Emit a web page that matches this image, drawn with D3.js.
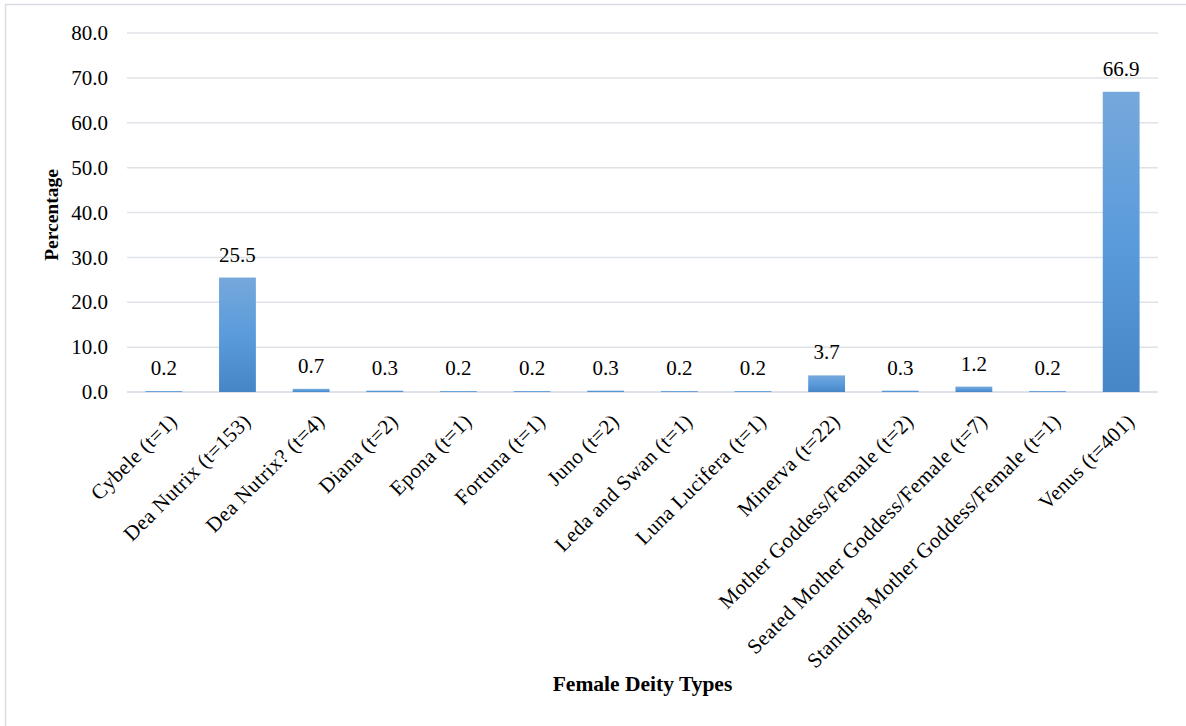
<!DOCTYPE html>
<html><head><meta charset="utf-8">
<script src="https://cdn.jsdelivr.net/npm/d3@7"></script>
<style>body{margin:0;background:#fff;} svg{display:block;}</style>
</head><body>
<svg id="chart" width="1186" height="726"></svg>
<script>
const categories = ["Cybele (t=1)","Dea Nutrix (t=153)","Dea Nutrix? (t=4)","Diana (t=2)","Epona (t=1)","Fortuna (t=1)","Juno (t=2)","Leda and Swan (t=1)","Luna Lucifera (t=1)","Minerva (t=22)","Mother Goddess/Female (t=2)","Seated Mother Goddess/Female (t=7)","Standing Mother Goddess/Female (t=1)","Venus (t=401)"];
const values = [0.2,25.5,0.7,0.3,0.2,0.2,0.3,0.2,0.2,3.7,0.3,1.2,0.2,66.9];
const yTicks = [0,10,20,30,40,50,60,70,80];
const yTitle = "Percentage";
const xTitle = "Female Deity Types";

const svg = d3.select("#chart");
const font = "'Liberation Serif','Times New Roman',serif";
const m = {left:127, right:1158, top:33, bottom:392};

svg.append("rect").attr("x",5.5).attr("y",4.5).attr("width",1186).attr("height",730)
  .attr("fill","#fff").attr("stroke","#d9dde3").attr("stroke-width",1.5);

const defs = svg.append("defs");
const grad = defs.append("linearGradient").attr("id","barGrad").attr("x1",0).attr("y1",0).attr("x2",0).attr("y2",1);
grad.append("stop").attr("offset","0%").attr("stop-color","#76a8dc");
grad.append("stop").attr("offset","50%").attr("stop-color","#5a9bdb");
grad.append("stop").attr("offset","100%").attr("stop-color","#4686c7");

const x = d3.scaleBand().domain(categories).range([m.left,m.right]).paddingInner(0.5).paddingOuter(0.25);
const y = d3.scaleLinear().domain([0,80]).range([m.bottom,m.top]);

// gridlines
svg.append("g").selectAll("line").data(yTicks).join("line")
  .attr("x1",m.left).attr("x2",m.right)
  .attr("y1",d=>y(d)).attr("y2",d=>y(d))
  .attr("stroke",d=>d===0?"#d5d9e0":"#dfe2e7").attr("stroke-width",1.5);

// y axis labels
const yAxis = d3.axisLeft(y).tickValues(yTicks).tickFormat(d3.format(".1f")).tickSize(0).tickPadding(19);
const ya = svg.append("g").attr("transform",`translate(${m.left},0)`).call(yAxis);
ya.select(".domain").remove();
ya.selectAll("text").attr("font-family",font).attr("font-size",21).attr("fill","#000");

// bars
svg.append("g").selectAll("rect").data(values).join("rect")
  .attr("x",(d,i)=>x(categories[i]))
  .attr("width",x.bandwidth())
  .attr("y",d=>y(d))
  .attr("height",d=>y(0)-y(d))
  .attr("fill","url(#barGrad)");

// value labels
svg.append("g").selectAll("text").data(values).join("text")
  .attr("x",(d,i)=>x(categories[i])+x.bandwidth()/2)
  .attr("y",d=>y(d)-16)
  .attr("text-anchor","middle")
  .attr("font-family",font).attr("font-size",21).attr("fill","#000")
  .text(d=>d3.format(".1f")(d));

// x labels
const xa = svg.append("g").attr("transform",`translate(0,${m.bottom})`)
  .call(d3.axisBottom(x).tickSize(0).tickPadding(0));
xa.select(".domain").remove();
xa.selectAll("text")
  .attr("font-family",font).attr("font-size",21).attr("fill","#000")
  .attr("letter-spacing","0.4px")
  .attr("text-anchor","end")
  .attr("dy",0)
  .attr("transform","translate(14.5,30.5) rotate(-45)");

// titles
svg.append("text").attr("transform",`translate(58,215) rotate(-90)`)
  .attr("text-anchor","middle").attr("font-family",font).attr("font-size",19.5).attr("font-weight","bold")
  .text(yTitle);
svg.append("text").attr("x",642.5).attr("y",691)
  .attr("text-anchor","middle").attr("font-family",font).attr("font-size",21.5).attr("font-weight","bold")
  .text(xTitle);
</script>
</body></html>
